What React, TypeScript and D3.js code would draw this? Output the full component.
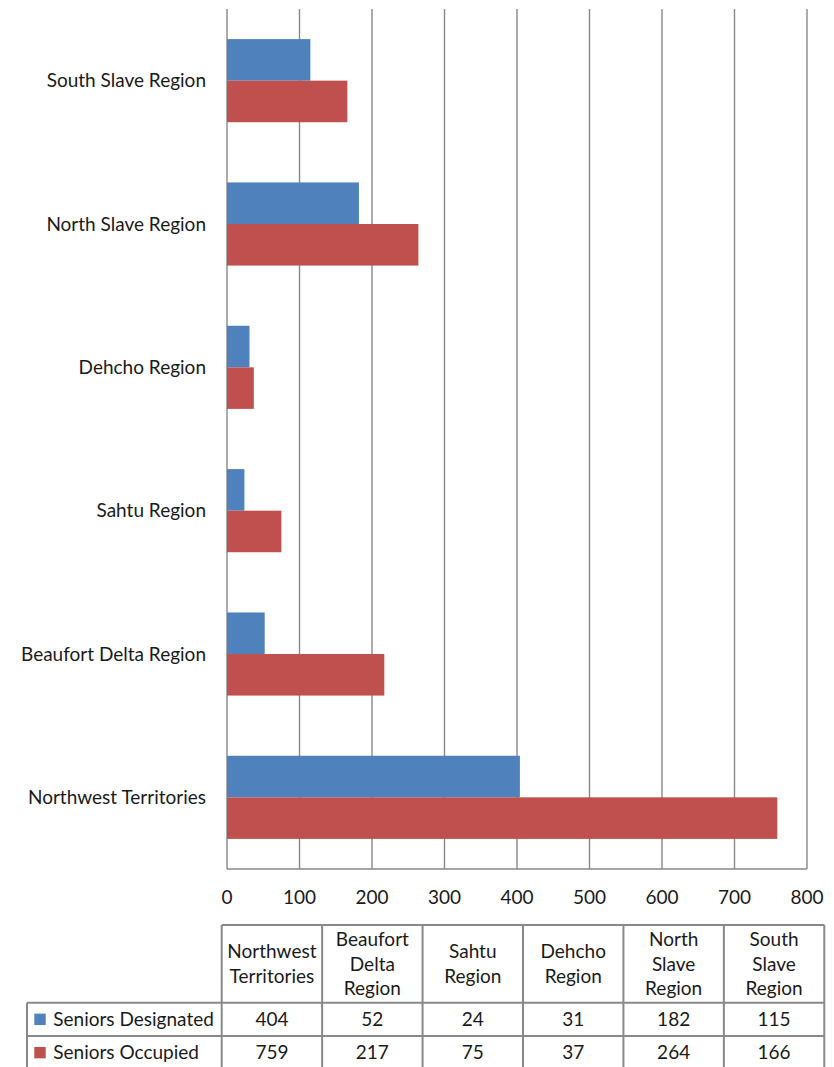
import React from "react";
import * as d3 from "d3";

// Regions as listed in the data table (left to right)
const categories = [
  "Northwest Territories",
  "Beaufort Delta Region",
  "Sahtu Region",
  "Dehcho Region",
  "North Slave Region",
  "South Slave Region",
];
// Header lines for the data table columns
const tableHeaders = [
  ["Northwest", "Territories"],
  ["Beaufort", "Delta", "Region"],
  ["Sahtu", "Region"],
  ["Dehcho", "Region"],
  ["North", "Slave", "Region"],
  ["South", "Slave", "Region"],
];
const seriesNames = ["Seniors Designated", "Seniors Occupied"];
const seniorsDesignated = [404, 52, 24, 31, 182, 115];
const seniorsOccupied = [759, 217, 75, 37, 264, 166];
const xTicks = [0, 100, 200, 300, 400, 500, 600, 700, 800];

const COLORS = ["#4F81BD", "#C0504D"];
const GRID = "#898989";
const FONT = "Lato, 'Open Sans', sans-serif";
const FS = 19;

export default function App() {
  const W = 834;
  const H = 1067;
  const plot = { left: 227, right: 807, top: 9, bottom: 869 };

  const x = d3.scaleLinear().domain([0, 800]).range([plot.left, plot.right]);
  // Chart draws the first category at the bottom
  const y = d3
    .scaleBand<string>()
    .domain([...categories].reverse())
    .range([plot.top, plot.bottom])
    .paddingInner(0.42)
    .paddingOuter(0.21);
  const ySub = d3
    .scaleBand<string>()
    .domain(seriesNames)
    .range([0, y.bandwidth()]);

  const seriesValues = [seniorsDesignated, seniorsOccupied];

  // Data table geometry
  const tableLeft = 27;
  const colX = d3
    .scaleBand<string>()
    .domain(categories)
    .range([221.7, 824.3]);
  const headerTop = 925;
  const headerBottom = 1002.7;
  const rowH = 33.3;
  const rowTops = [headerBottom, headerBottom + rowH];
  const tableBottom = headerBottom + 2 * rowH;
  const lineGap = 24.5;
  const headerMid = (headerTop + headerBottom) / 2;

  return (
    <div style={{ position: "absolute", left: 0, top: 0 }}>
      <svg width={W} height={H} style={{ display: "block", background: "#fff" }}>
        {/* vertical gridlines */}
        {xTicks.map((t) => (
          <line
            key={"g" + t}
            x1={x(t)}
            x2={x(t)}
            y1={plot.top}
            y2={plot.bottom}
            stroke={GRID}
            strokeWidth={1.4}
          />
        ))}
        {/* bottom axis line */}
        <line
          x1={plot.left}
          x2={plot.right}
          y1={plot.bottom}
          y2={plot.bottom}
          stroke={GRID}
          strokeWidth={1.4}
        />
        {/* bars */}
        {categories.map((c, i) =>
          seriesNames.map((s, si) => (
            <rect
              key={c + s}
              x={x(0)}
              y={(y(c) as number) + (ySub(s) as number)}
              width={x(seriesValues[si][i]) - x(0)}
              height={ySub.bandwidth()}
              fill={COLORS[si]}
            />
          ))
        )}
        {/* category labels */}
        {categories.map((c) => (
          <text
            key={"l" + c}
            x={206}
            y={(y(c) as number) + y.bandwidth() / 2}
            dy="0.35em"
            textAnchor="end"
            fontFamily={FONT}
            fontSize={FS}
            fill="#1a1a1a"
          >
            {c}
          </text>
        ))}
        {/* x tick labels */}
        {xTicks.map((t) => (
          <text
            key={"t" + t}
            x={x(t)}
            y={897}
            dy="0.35em"
            textAnchor="middle"
            fontFamily={FONT}
            fontSize={FS}
            fill="#1a1a1a"
          >
            {t}
          </text>
        ))}

        {/* data table */}
        <g stroke={GRID} strokeWidth={2} fill="none">
          <line x1={221.7} x2={824.3} y1={headerTop} y2={headerTop} />
          {rowTops.map((ry) => (
            <line key={"h" + ry} x1={tableLeft} x2={824.3} y1={ry} y2={ry} />
          ))}
          <line x1={tableLeft} x2={824.3} y1={tableBottom} y2={tableBottom} />
          <line x1={tableLeft} x2={tableLeft} y1={headerBottom} y2={tableBottom} />
          {categories.map((c) => (
            <line
              key={"v" + c}
              x1={colX(c) as number}
              x2={colX(c) as number}
              y1={headerTop}
              y2={tableBottom}
            />
          ))}
          <line x1={824.3} x2={824.3} y1={headerTop} y2={tableBottom} />
        </g>
        {categories.map((c, i) => {
          const cx = (colX(c) as number) + colX.bandwidth() / 2;
          const lines = tableHeaders[i];
          const start = headerMid - ((lines.length - 1) * lineGap) / 2;
          return (
            <g key={"th" + c}>
              {lines.map((ln, li) => (
                <text
                  key={li}
                  x={cx}
                  y={start + li * lineGap}
                  dy="0.35em"
                  textAnchor="middle"
                  fontFamily={FONT}
                  fontSize={FS}
                  fill="#1a1a1a"
                >
                  {ln}
                </text>
              ))}
              {seriesValues.map((vals, si) => (
                <text
                  key={"v" + si}
                  x={cx}
                  y={rowTops[si] + rowH / 2}
                  dy="0.35em"
                  textAnchor="middle"
                  fontFamily={FONT}
                  fontSize={FS}
                  fill="#1a1a1a"
                >
                  {vals[i]}
                </text>
              ))}
            </g>
          );
        })}
        {seriesNames.map((s, si) => (
          <g key={"leg" + s}>
            <rect
              x={34.3}
              y={rowTops[si] + rowH / 2 - 5.7}
              width={11.4}
              height={11.4}
              fill={COLORS[si]}
            />
            <text
              x={53.3}
              y={rowTops[si] + rowH / 2}
              dy="0.35em"
              fontFamily={FONT}
              fontSize={FS}
              fill="#1a1a1a"
            >
              {s}
            </text>
          </g>
        ))}
      </svg>
    </div>
  );
}
